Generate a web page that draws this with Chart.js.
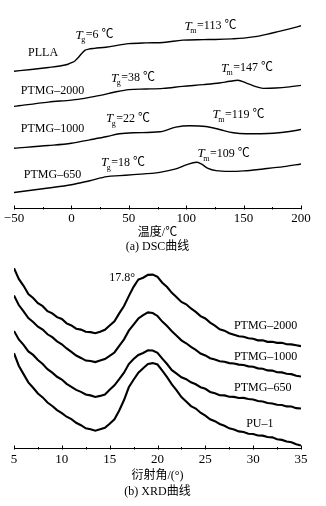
<!DOCTYPE html>
<html>
<head>
<meta charset="utf-8">
<script src="https://cdn.jsdelivr.net/npm/chart.js@4.4.1/dist/chart.umd.min.js"></script>
<style>
  html, body { margin: 0; padding: 0; background: #fff; }
  #wrap { position: relative; width: 326px; height: 506px; overflow: hidden; background: #fff; }
  canvas { position: absolute; left: 0; }
  #dscChart { top: 0; }
  #xrdChart { top: 250px; }
</style>
</head>
<body>
<div id="wrap">
  <canvas id="dscChart" width="326" height="253"></canvas>
  <canvas id="xrdChart" width="326" height="256"></canvas>
</div>
<script>
// ---- DSC data (heat flow in arbitrary units) ----
const pllaT = [-50, -35, -20, -10, -3, 0, 3, 6, 9, 12, 15, 20, 30, 50, 65, 80, 97, 115, 125, 140, 150, 160, 170, 180, 190, 200];
const pllaHF = [137, 138.8, 140.8, 142.3, 144, 145.5, 147.3, 150.7, 154.7, 158, 159, 159.8, 161, 164.5, 165.3, 165.7, 168, 168.5, 168.7, 169.3, 170, 171.5, 173.8, 176.5, 179.3, 182.3];

const p2000T = [-50, -20, 0, 10, 25, 38, 50, 65, 80, 97, 115, 129, 138, 145, 152, 160, 167, 178, 190, 200];
const p2000HF = [102, 106.3, 108.3, 109.7, 113, 116.3, 118.7, 119.3, 120, 122, 123.7, 125.3, 127, 128, 125.5, 122, 120, 120.3, 121.5, 123];

const p1000T = [-50, -20, 0, 16, 31, 42, 54, 77, 91, 103, 117, 129, 141, 152, 165, 176, 190, 200];
const p1000HF = [60.3, 63, 65.3, 68.7, 72, 74.7, 75.7, 76.7, 81.3, 82.7, 82, 79, 75.7, 74.7, 74.8, 75.3, 77, 79];

const p650T = [-50, -20, 0, 16, 31, 42, 54, 77, 91, 100, 109, 113, 119, 126, 138, 150, 167, 185, 200];
const p650HF = [16.3, 20.7, 24, 28, 32, 33, 34, 36.3, 39.7, 43.7, 46.3, 44.7, 40.3, 38, 37.3, 37.8, 39.7, 42, 44.7];

const dscTicks = [-50, 0, 50, 100, 150, 200];

// ---- XRD data (intensity in arbitrary units, curves offset) ----
const xrdAngle = [5, 5.5, 6, 6.5, 7, 7.5, 8, 8.5, 9, 9.5,
  10, 10.5, 11, 11.5, 12, 12.5, 13, 13.5, 14, 14.5,
  15, 15.5, 16, 16.5, 17, 17.5, 18, 18.5, 19, 19.5,
  20, 20.5, 21, 21.5, 22, 22.5, 23, 23.5, 24, 24.5,
  25, 25.5, 26, 26.5, 27, 27.5, 28, 28.5, 29, 29.5,
  30, 30.5, 31, 31.5, 32, 32.5, 33, 33.5, 34, 34.5, 35];

const xrd2000 = [180, 169.4, 162.6, 154.5, 150.6, 145.4, 142.5, 137.6, 135.4, 131.6,
  129.8, 125.5, 123.4, 120.2, 119.3, 117.2, 116.8, 115.7, 117.3, 119.2,
  123.4, 127.6, 135.3, 142.6, 152.4, 161.6, 168.8, 170.6, 173.4, 173.7,
  171.4, 165.6, 161.4, 155.6, 151.3, 146.7, 144.3, 140.2, 136.8, 132.7,
  130.3, 126.2, 123.3, 119.7, 118.3, 115.7, 114.3, 112.7, 112.3, 110.7,
  110.3, 108.7, 108.8, 107.2, 107.3, 106.2, 106.3, 104.8, 104.7, 103.8, 103];

const xrd1000 = [153, 143.6, 137.3, 130.7, 126.8, 122.2, 119.3, 114.7, 111.8, 107.7,
  104.8, 100.7, 97.3, 93.7, 91.3, 88.7, 88.3, 87.2, 88.8, 90.2,
  93.3, 96.7, 103.3, 109.7, 118.3, 124.2, 130.3, 133.7, 136.3, 135.7,
  132.8, 127.2, 122.8, 117.7, 113.3, 108.7, 105.8, 102.2, 99.3, 95.7,
  93.8, 91, 89.8, 88, 87.6, 86.2, 85.8, 84.7, 84.3, 83,
  82.6, 81, 80.6, 79, 78.8, 77.2, 77, 75.7, 75.3, 73.7, 73];

const xrd650 = [118, 109.6, 104.3, 97.7, 94.3, 89.2, 85.3, 80.2, 76.8, 72.7,
  70, 65.7, 62.8, 59.7, 57.8, 55.2, 54.3, 52.7, 53.8, 55.2,
  59.8, 64.2, 70.3, 76.7, 85.3, 90.2, 94.3, 96.2, 98.8, 98.7,
  96.3, 90.7, 85.3, 79.2, 75.8, 72.2, 70.3, 67.2, 65.3, 62.4,
  60.8, 57.7, 56.3, 54.5, 54.3, 52.9, 52.8, 51.7, 51.8, 50.7,
  50.3, 48.7, 48.3, 46.7, 46.3, 45, 44.8, 43.4, 43.3, 41.7, 41.3];

const xrdPU1 = [96, 83.6, 75.3, 67.2, 61.8, 56.2, 52.3, 47.2, 43.8, 39.7,
  36.8, 33.2, 30.8, 27.2, 24.8, 21.7, 20.8, 19.4, 20.8, 22.2,
  26.3, 30.7, 39.3, 49.7, 62.3, 69.7, 76.8, 81.2, 85.3, 86.2,
  84.8, 78.7, 72.3, 65.2, 59.3, 52.7, 48.3, 43.7, 41.3, 37.2,
  34.3, 30.7, 28.8, 26, 24.3, 21.7, 20.6, 18.7, 18.1, 16.4,
  16.1, 14.7, 14.5, 13.2, 12.8, 11, 10.3, 8.7, 8, 6, 4.7];

// ---- text placed in data coordinates ----
const dscNotes = [
  { x: -24.7, y: 155, text: 'PLLA' },
  { x: 20.6, y: 173, sub: 'g', text: '=6 ℃' },
  { x: 121.6, y: 182, sub: 'm', text: '=113 ℃' },
  { x: -16.5, y: 118, text: 'PTMG–2000' },
  { x: 54.1, y: 130, sub: 'g', text: '=38 ℃' },
  { x: 153.4, y: 140, sub: 'm', text: '=147 ℃' },
  { x: -16.5, y: 80, text: 'PTMG–1000' },
  { x: 49.7, y: 90, sub: 'g', text: '=22 ℃' },
  { x: 146, y: 94, sub: 'm', text: '=119 ℃' },
  { x: -16.5, y: 34, text: 'PTMG–650' },
  { x: 45.3, y: 46, sub: 'g', text: '=18 ℃' },
  { x: 133, y: 55, sub: 'm', text: '=109 ℃' }
];

const xrdNotes = [
  { x: 31.3, y: 123, text: 'PTMG–2000' },
  { x: 31.3, y: 92.3, text: 'PTMG–1000' },
  { x: 31.0, y: 61.3, text: 'PTMG–650' },
  { x: 30.7, y: 26.3, text: 'PU–1' },
  { x: 17.65, y: 170.5, text: '17.8°', align: 'right' }
];

const SERIF = '"Liberation Serif", "Times New Roman", "Noto Sans CJK SC", serif';

function pts(xs, ys) {
  return xs.map((v, i) => ({ x: v, y: ys[i] }));
}

function drawNote(ctx, n, xs, ys) {
  const px = xs.getPixelForValue(n.x);
  const py = ys.getPixelForValue(n.y);
  ctx.fillStyle = '#000';
  ctx.textBaseline = 'middle';
  if (!n.sub) {
    ctx.font = '12px ' + SERIF;
    ctx.textAlign = n.align || 'center';
    ctx.fillText(n.text, px, py);
    return;
  }
  // T with subscript (Tg / Tm)
  const fT = 'italic 13px ' + SERIF, fS = '8px ' + SERIF, fR = '12px ' + SERIF;
  ctx.font = fT; const wT = ctx.measureText('T').width;
  ctx.font = fS; const wS = ctx.measureText(n.sub).width;
  ctx.font = fR; const wR = ctx.measureText(n.text).width;
  const left = px - (wT + wS + wR) / 2;
  ctx.textAlign = 'left';
  ctx.font = fT; ctx.fillText('T', left, py);
  ctx.font = fS; ctx.fillText(n.sub, left + wT - 1.5, py + 5);
  ctx.font = fR; ctx.fillText(n.text, left + wT + wS - 1, py);
}

// inward tick marks + labels on the curves
const axisDecor = {
  id: 'axisDecor',
  afterDraw(chart, args, opts) {
    const { ctx, scales: { x, y } } = chart;
    const base = Math.round(x.top) + 0.5;
    ctx.save();
    ctx.strokeStyle = '#000';
    ctx.lineWidth = 1;
    for (let v = x.min; v <= x.max + 1e-9; v += opts.minor) {
      const px = Math.round(x.getPixelForValue(v)) + 0.5;
      const r = v / opts.major;
      const major = Math.abs(r - Math.round(r)) < 1e-6;
      ctx.beginPath();
      ctx.moveTo(px, base);
      ctx.lineTo(px, base - (major ? 4 : 2.5));
      ctx.stroke();
    }
    opts.notes.forEach(n => drawNote(ctx, n, x, y));
    ctx.restore();
  }
};

function lineSet(data, width, smooth) {
  return {
    data: data,
    borderColor: '#000',
    borderWidth: width,
    pointRadius: 0,
    fill: false,
    tension: 0,
    cubicInterpolationMode: smooth ? 'monotone' : 'default'
  };
}

function baseOptions(cfg) {
  return {
    responsive: false,
    animation: false,
    events: [],
    layout: { padding: cfg.padding },
    plugins: {
      legend: { display: false },
      tooltip: { enabled: false },
      title: {
        display: true,
        position: 'bottom',
        text: cfg.caption,
        color: '#000',
        font: { family: SERIF, size: 12, weight: 'normal', lineHeight: 0.8 },
        padding: cfg.captionPad
      },
      axisDecor: { major: cfg.major, minor: cfg.minor, notes: cfg.notes }
    },
    scales: {
      x: {
        type: 'linear',
        min: cfg.xmin,
        max: cfg.xmax,
        grid: { display: false, drawTicks: false },
        border: { display: true, color: '#000', width: 1 },
        ticks: {
          stepSize: cfg.major,
          color: '#000',
          padding: cfg.tickPad,
          maxRotation: 0,
          autoSkip: false,
          font: { family: SERIF, size: 13, lineHeight: 1 },
          callback: v => String(v).replace('-', '\u2212')
        },
        title: {
          display: true,
          text: cfg.xtitle,
          color: '#000',
          font: { family: SERIF, size: 12, lineHeight: 0.8 },
          padding: cfg.titlePad
        }
      },
      y: {
        display: false,
        min: cfg.ymin,
        max: cfg.ymax
      }
    }
  };
}

// DSC chart
new Chart(document.getElementById('dscChart').getContext('2d'), {
  type: 'line',
  data: {
    datasets: [
      lineSet(pts(pllaT, pllaHF), 1.4, true),
      lineSet(pts(p2000T, p2000HF), 1.4, true),
      lineSet(pts(p1000T, p1000HF), 1.4, true),
      lineSet(pts(p650T, p650HF), 1.4, true)
    ]
  },
  options: baseOptions({
    padding: { left: 14, right: 25, top: 0, bottom: 1 },
    caption: '(a) DSC曲线',
    captionPad: { top: 5, bottom: 0 },
    xtitle: '温度/℃',
    titlePad: { top: 0, bottom: 0 },
    tickPad: 3,
    xmin: dscTicks[0],
    xmax: dscTicks[dscTicks.length - 1],
    major: 50,
    minor: 25,
    ymin: 0,
    ymax: 208,
    notes: dscNotes
  }),
  plugins: [axisDecor]
});

// XRD chart
new Chart(document.getElementById('xrdChart').getContext('2d'), {
  type: 'line',
  data: {
    datasets: [
      lineSet(pts(xrdAngle, xrd2000), 2.1, false),
      lineSet(pts(xrdAngle, xrd1000), 2.1, false),
      lineSet(pts(xrdAngle, xrd650), 2.1, false),
      lineSet(pts(xrdAngle, xrdPU1), 2.1, false)
    ]
  },
  options: baseOptions({
    padding: { left: 14, right: 25, top: 0, bottom: 9 },
    caption: '(b) XRD曲线',
    captionPad: { top: 7, bottom: 0 },
    xtitle: '衍射角/(°)',
    titlePad: { top: 1, bottom: 0 },
    tickPad: 4,
    xmin: 5,
    xmax: 35,
    major: 5,
    minor: 2.5,
    ymin: 1.5,
    ymax: 198,
    notes: xrdNotes
  }),
  plugins: [axisDecor]
});
</script>
</body>
</html>
